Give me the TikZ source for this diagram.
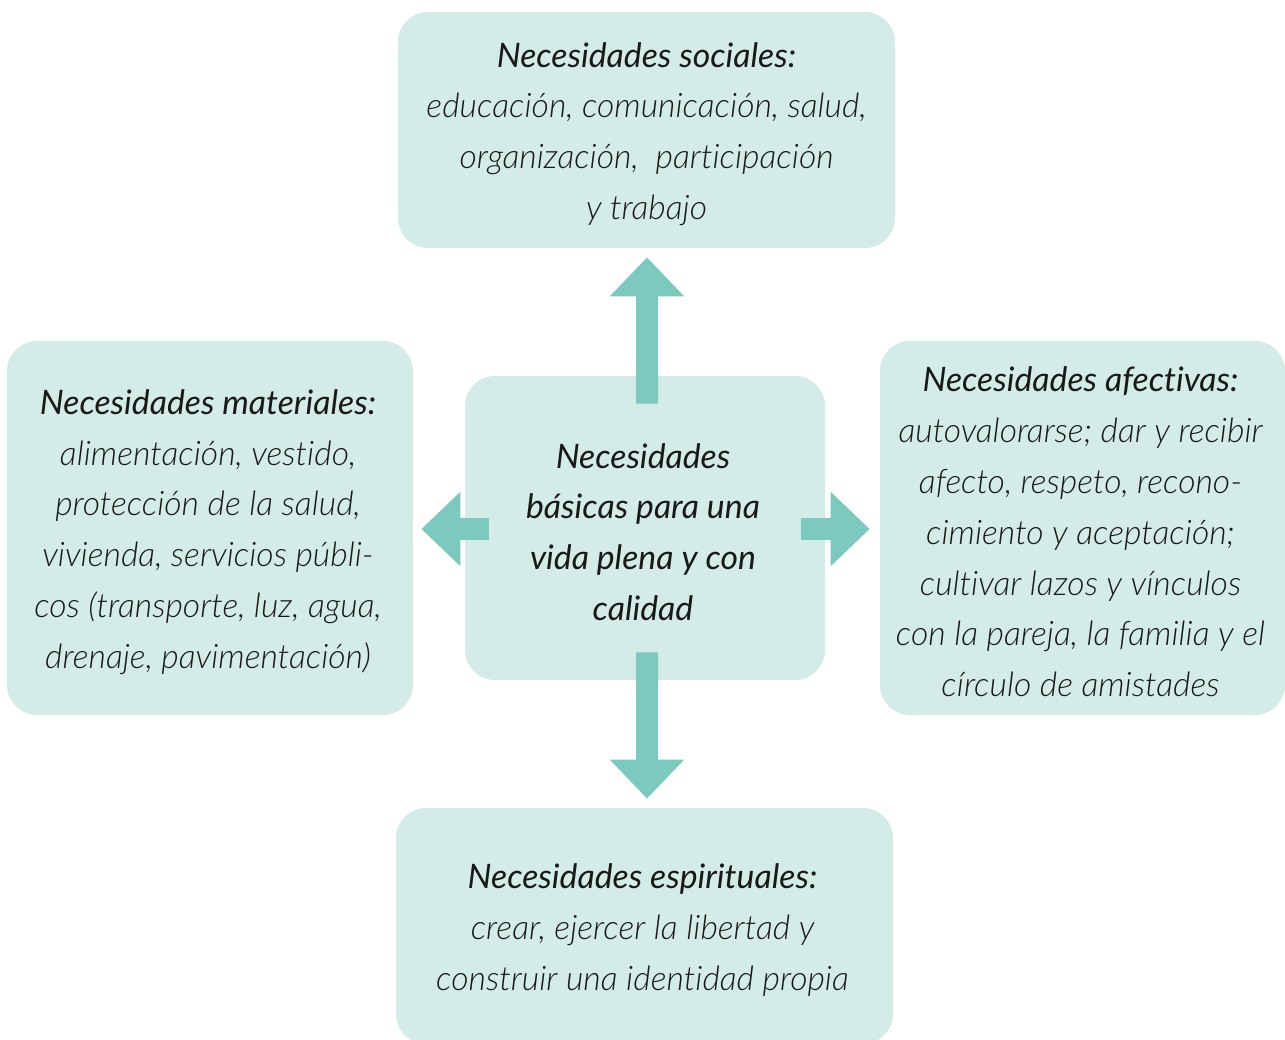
\documentclass[tikz,border=0pt]{standalone}
\usepackage{fontspec}
\setmainfont{Lato}[Ligatures=NoCommon]
\newfontfamily\latolight{Lato Light Italic}[Ligatures=NoCommon]
\usetikzlibrary{arrows.meta,calc}
\definecolor{boxfill}{HTML}{D4ECE7}
\definecolor{arrowcol}{HTML}{7BCABD}
\newcommand\pxu{0.02cm}
\newcommand\hd[1]{{\rmfamily\itshape #1}}
\begin{document}
\begin{tikzpicture}[x=0.02cm,y=-0.02cm,
  needbox/.style={rectangle, fill=boxfill, rounded corners=30*\pxu, inner sep=0pt},
  needtext/.style={inner sep=0pt, align=center,
    font=\latolight\fontsize{19.2}{28.9}\selectfont, text=black!90},
  bigarrow/.style={draw=arrowcol, line width=22*\pxu, line cap=butt,
    -{Triangle[width=72*\pxu, length=39*\pxu]}}]
\useasboundingbox (0,0) rectangle (1285,1039);
\clip (0,0) rectangle (1285,1039);
\fill[white] (0,0) rectangle (1285,1039);

\node[needbox, minimum width=497*\pxu, minimum height=236*\pxu] (top) at (646.5,130) {};
\node[needbox, minimum width=360*\pxu, minimum height=304*\pxu] (c) at (645,528) {};
\node[needbox, minimum width=406*\pxu, minimum height=374*\pxu] (l) at (210,528) {};
\node[needbox, minimum width=405*\pxu, minimum height=374*\pxu] (r) at (1082.5,528) {};
\node[needbox, minimum width=497*\pxu, minimum height=236*\pxu] (b) at (644.5,926) {};

\node[needtext] (topt) at ($(top)+(0,4)$)
  {\hd{Necesidades sociales:}\\ educación, comunicación, salud,\\ organización,\ \ participación\\ y trabajo};
\node[needtext] (ct) at ($(c)+(-2,4)$)
  {\hd{Necesidades}\\ \hd{básicas para una}\\ \hd{vida plena y con}\\ \hd{calidad}};
\node[needtext] (lt) at ($(l)+(-2,4)$)
  {\hd{Necesidades materiales:}\\ alimentación, vestido,\\ protección de la salud,\\ vivienda, servicios públi-\\ cos (transporte, luz, agua,\\ drenaje, pavimentación)};
\node[needtext] (rt) at ($(r)+(-2,4)$)
  {\hd{Necesidades afectivas:}\\ autovalorarse; dar y recibir\\ afecto, respeto, recono-\\ cimiento y aceptación;\\ cultivar lazos y vínculos\\ con la pareja, la familia y el\\ círculo de amistades};
\node[needtext] (bt) at ($(b)+(-2,4)$)
  {\hd{Necesidades espirituales:}\\ crear, ejercer la libertad y\\ construir una identidad propia};

\draw[bigarrow] ($(c.north)+(2,28)$) -- ($(top.south)+(0.5,9)$);
\draw[bigarrow] ($(c.south)+(2,-28)$) -- ($(b.north)+(2.5,-9)$);
\draw[bigarrow] ($(c.west)+(24,1)$) -- ($(l.east)+(8,1)$);
\draw[bigarrow] ($(c.east)+(-24,1)$) -- ($(r.west)+(-10,1)$);
\end{tikzpicture}
\end{document}
